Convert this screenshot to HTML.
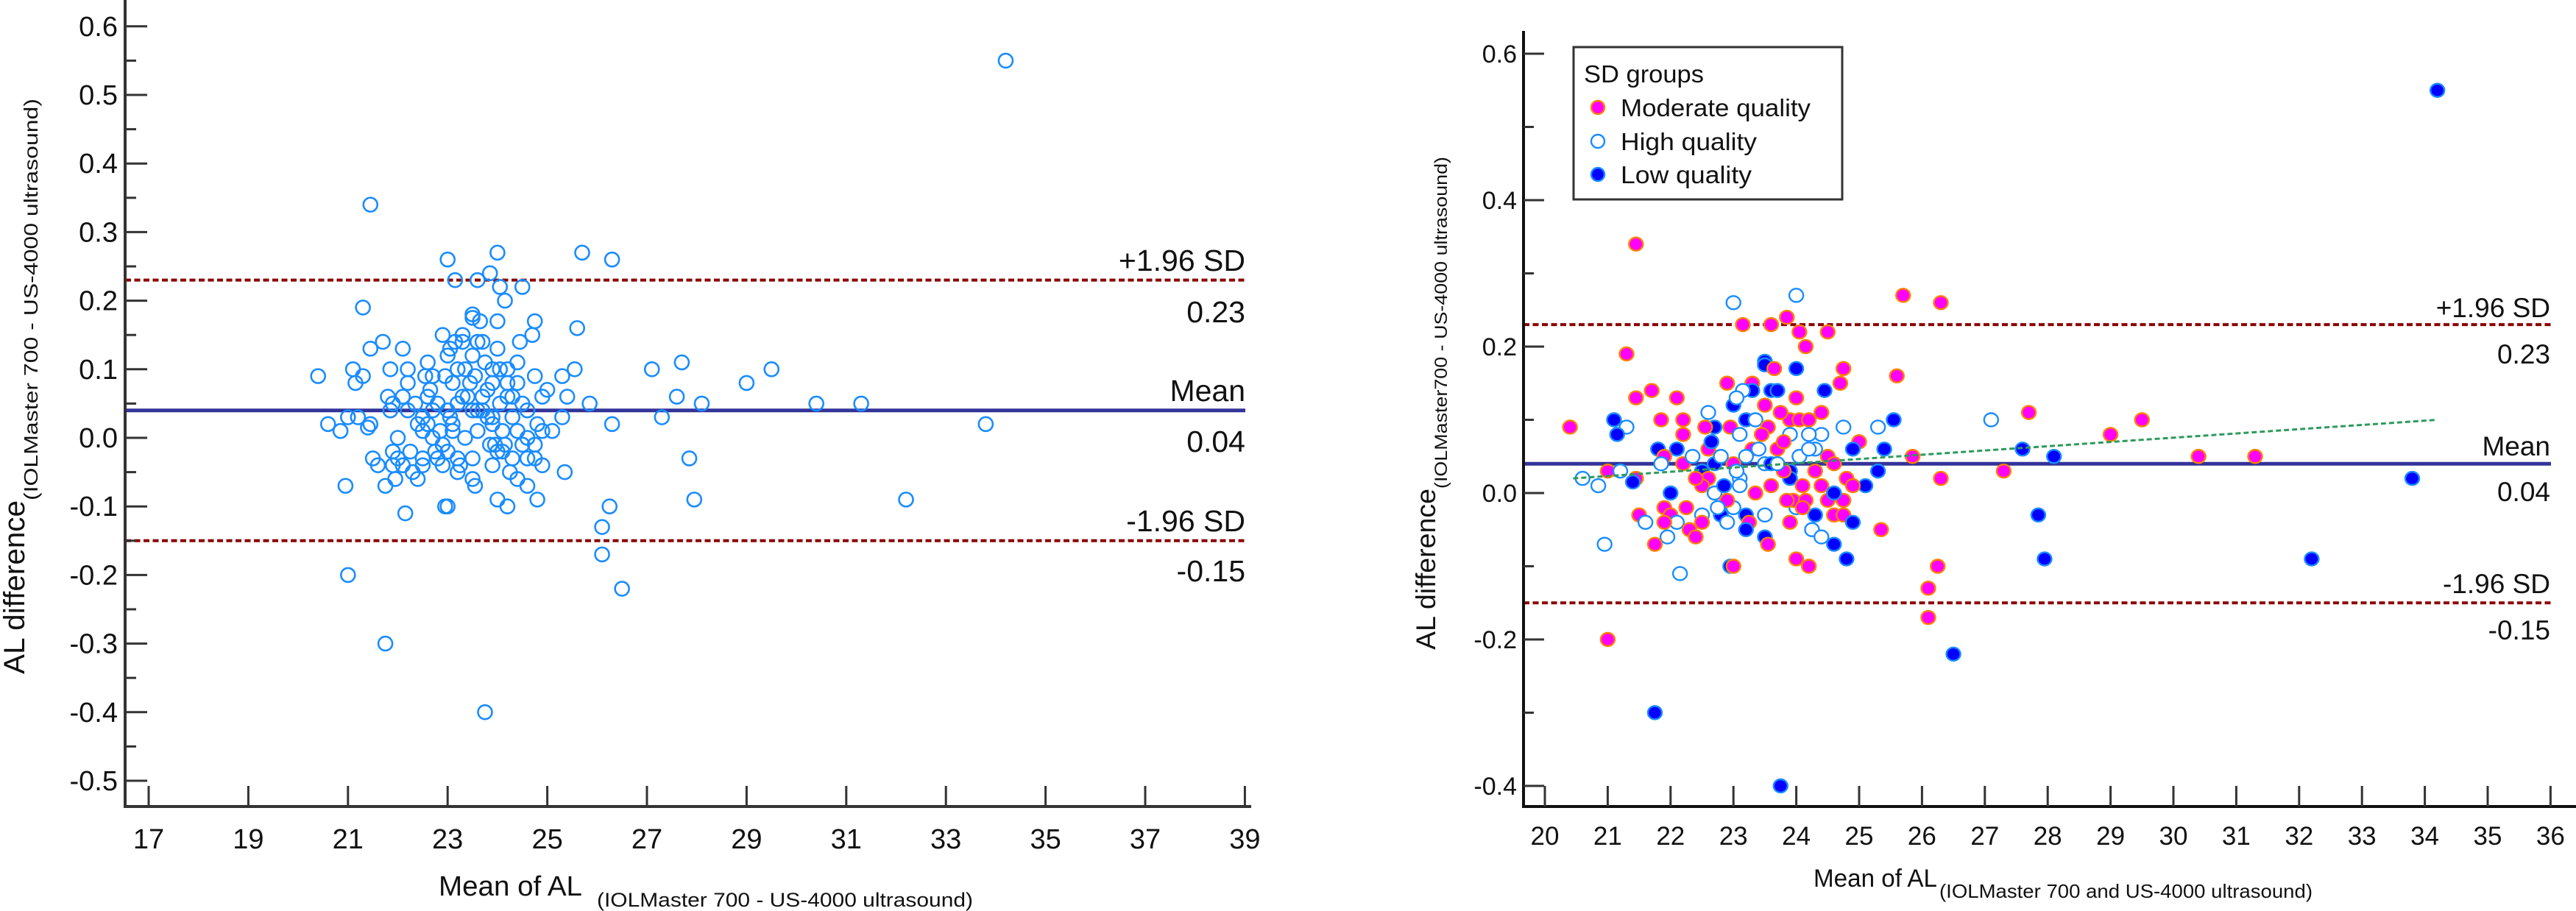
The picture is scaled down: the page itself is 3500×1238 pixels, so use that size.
<!DOCTYPE html>
<html><head><meta charset="utf-8">
<style>
html,body{margin:0;padding:0;background:#fff;}
svg{display:block;font-family:"Liberation Sans",Arial,sans-serif;}
</style></head>
<body>
<svg id="fig" width="3500" height="1238" viewBox="0 0 3500 1238" xmlns="http://www.w3.org/2000/svg">
  <rect width="3500" height="1238" fill="#fff"/>
  <g id="left"></g>
  <g id="right"></g>
</svg>
<script>
// ---- data ----
const meanAL = [34.2,21.45,21.3,20.4,23.0,24.0,25.7,26.3,23.15,23.6,23.85,24.05,24.5,24.15,
23.5,23.5,23.65,24.0,24.75,25.6,24.7,22.9,23.3,24.45,23.3,23.6,23.7,23.15,
21.7,22.1,21.45,24.0,23.0,23.05,23.5,
21.1,21.85,22.2,23.2,23.35,23.9,24.05,24.2,25.55,27.1,29.5,
23.75,24.4,27.7,22.6,
21.3,22.7,22.95,24.75,25.3,23.55,22.55,
21.15,22.2,29.0,24.4,24.2,23.1,23.9,25.0,
22.1,21.8,25.4,27.6,24.9,23.3,23.7,22.6,23.8,
21.9,25.85,28.1,30.4,31.3,24.5,23.2,24.05,
22.2,21.85,22.7,23.0,24.6,23.5,
21.0,21.2,22.5,27.3,23.9,25.3,24.3,
21.45,20.6,33.8,26.3,21.4,22.6,23.1,24.8,23.9,
20.85,22.5,25.1,24.9,23.6,24.1,24.4,23.1,
22.0,23.35,22.7,
21.5,21.9,22.0,22.25,22.1,22.5,23.0,23.5,24.3,24.6,24.75,22.8,23.2,
21.6,21.9,22.5,22.9,23.25,23.9,24.9,24.0,24.5,23.95,24.15,24.75,23.85,22.9,
22.3,25.35,23.2,24.25,21.95,22.4,24.4,23.5,
21.75,20.95,23.55,24.6,
22.15,22.95,23.0,24.0,24.2,24.8,26.25,27.85,27.95,32.2,
26.1,26.1,26.5,21.0,21.75,23.75,
22.8,22.65,23.4,23.8,24.3,22.4,23.6,24.2,22.75,23.45,24.6,22.35,23.05,24.1,22.85,23.7];
const diffAL = [0.55,0.34,0.19,0.09,0.26,0.27,0.27,0.26,0.23,0.23,0.24,0.22,0.22,0.20,
0.18,0.175,0.17,0.17,0.17,0.16,0.15,0.15,0.15,0.14,0.14,0.14,0.14,0.14,
0.14,0.13,0.13,0.13,0.12,0.13,0.12,
0.10,0.10,0.10,0.10,0.10,0.10,0.10,0.10,0.10,0.10,0.10,
0.11,0.11,0.11,0.11,
0.09,0.09,0.09,0.09,0.09,0.09,0.09,
0.08,0.08,0.08,0.08,0.08,0.08,0.08,0.07,
0.06,0.06,0.06,0.06,0.06,0.06,0.06,0.06,0.07,
0.05,0.05,0.05,0.05,0.05,0.05,0.05,0.05,
0.04,0.04,0.04,0.04,0.04,0.04,
0.03,0.03,0.03,0.03,0.03,0.03,0.03,
0.02,0.02,0.02,0.02,0.015,0.02,0.02,0.02,0.02,
0.01,0.01,0.01,0.01,0.01,0.01,0.01,0.01,
0.00,0.00,0.00,
-0.03,-0.02,-0.03,-0.02,-0.04,-0.03,-0.02,-0.03,-0.03,-0.03,-0.03,-0.03,-0.03,
-0.04,-0.04,-0.04,-0.04,-0.04,-0.04,-0.04,-0.02,-0.01,-0.01,-0.01,-0.01,-0.01,-0.01,
-0.05,-0.05,-0.05,-0.05,-0.06,-0.06,-0.06,-0.06,
-0.07,-0.07,-0.07,-0.07,
-0.11,-0.10,-0.10,-0.09,-0.10,-0.09,-0.10,-0.03,-0.09,-0.09,
-0.13,-0.17,-0.22,-0.20,-0.30,-0.40,
0.05,0.07,0.06,0.03,0.06,0.02,0.04,0.06,-0.02,0.08,0.00,0.05,0.03,-0.02,0.01,0.04];
const group = ["L","M","M","M","H","H","M","M","M","M","M","M","M","M",
"L","L","M","L","M","M","M","M","M","L","L","L","L","H",
"M","M","M","M","L","H","M",
"L","M","M","L","H","M","M","M","L","H","M",
"M","M","M","H",
"H","L","M","H","H","M","M",
"L","M","M","H","H","H","H","M",
"L","L","L","L","L","M","M","M","M",
"M","M","L","M","M","M","H","H",
"M","H","L","M","M","H",
"M","H","L","M","L","L","M",
"M","H","L","M","L","M","H","M","L",
"H","M","L","M","M","M","M","H",
"L","M","H",
"M","M","M","M","H","H","H","H","L","M","M","L","L",
"H","M","M","H","M","M","L","H","M","M","M","M","M","M",
"M","M","L","H","H","M","H","L",
"M","H","M","L",
"H","L","M","M","M","L","M","L","L","L",
"M","M","L","M","L","L",
"H","L","H","M","H","M","L","H","H","M","L","H","H","M","L","H"];
const meanDiff = 0.04, upperLoA = 0.23, lowerLoA = -0.15;
const regX = [20.45, 34.2];
const regY = [0.02, 0.10];
const leftXTicks = [17,19,21,23,25,27,29,31,33,35,37,39];
const leftYTicks = [0.6,0.5,0.4,0.3,0.2,0.1,0.0,-0.1,-0.2,-0.3,-0.4,-0.5];
const rightXTicks = [20,21,22,23,24,25,26,27,28,29,30,31,32,33,34,35,36];
const rightYTicks = [0.6,0.4,0.2,0.0,-0.2,-0.4];
const legendLabels = ["Moderate quality","High quality","Low quality"];

const NS = "http://www.w3.org/2000/svg";
function mk(parent, tag, attrs, text){
  const e = document.createElementNS(NS, tag);
  for (const k in attrs) e.setAttribute(k, attrs[k]);
  if (text !== undefined) e.textContent = text;
  parent.appendChild(e);
  return e;
}
function fmt(v){ return v.toFixed(1).replace("-0.0","0.0"); }

// ---------------- LEFT CHART ----------------
(function(){
  const g = document.getElementById('left');
  const X = v => 202 + (v - 17) * 67.7;
  const Y = v => 595 - v * 932;
  const axL = 170, axB = 1096, xEnd = 1700;
  // limit lines
  let e;
  e = mk(g,'line',{x1:axL,x2:1692,y1:Y(upperLoA),y2:Y(upperLoA),stroke:'#8b0000','stroke-width':4,'stroke-dasharray':'8 4.5'});
   
  e = mk(g,'line',{x1:axL,x2:1692,y1:Y(lowerLoA),y2:Y(lowerLoA),stroke:'#8b0000','stroke-width':4,'stroke-dasharray':'8 4.5'});
   
  e = mk(g,'line',{x1:axL,x2:1692,y1:Y(meanDiff),y2:Y(meanDiff),stroke:'#333399','stroke-width':5});
   
  // points
  for (let i=0;i<meanAL.length;i++){
    e = mk(g,'circle',{cx:X(meanAL[i]),cy:Y(diffAL[i]),r:9.5,fill:'none',stroke:'#1a8cff','stroke-width':2.6});
     
  }
  // axes
  e = mk(g,'line',{x1:axL,x2:axL,y1:0,y2:axB+2,stroke:'#333','stroke-width':4});
   
  e = mk(g,'line',{x1:axL-2,x2:xEnd,y1:axB,y2:axB,stroke:'#333','stroke-width':4});
   
  leftYTicks.forEach(t=>{
    const y = Y(t);
    let m = mk(g,'line',{x1:axL,x2:200,y1:y,y2:y,stroke:'#333','stroke-width':3});
     
    if (t > -0.5){ const y2 = Y(t-0.05);
      m = mk(g,'line',{x1:axL,x2:185,y1:y2,y2:y2,stroke:'#333','stroke-width':3});
        }
    m = mk(g,'text',{x:160,y:y+13,'text-anchor':'end','font-size':38,fill:'#111'},fmt(t));
     
  });
  leftXTicks.forEach(t=>{
    const x = X(t);
    let m = mk(g,'line',{x1:x,x2:x,y1:axB,y2:axB-28,stroke:'#333','stroke-width':3});
     
    m = mk(g,'text',{x:x,y:1153,'text-anchor':'middle','font-size':38,fill:'#111'},String(t));
     
  });
  const labs = [['+1.96 SD',368,'upper-loa-label'],['0.23',438,'upper-loa-value'],['Mean',545,'mean-label'],['0.04',614,'mean-value'],['-1.96 SD',722,'lower-loa-label'],['-0.15',790,'lower-loa-value']];
  labs.forEach(l=>{
    const m = mk(g,'text',{x:1692,y:l[1],'text-anchor':'end','font-size':41,fill:'#111'},l[0]);
     
  });
  // titles
  let t = mk(g,'text',{x:596,y:1217,'font-size':38,fill:'#111',textLength:195,lengthAdjust:'spacingAndGlyphs'},'Mean of AL');
   
  t = mk(g,'text',{x:811,y:1232,'font-size':27,fill:'#111',textLength:511,lengthAdjust:'spacingAndGlyphs'},'(IOLMaster 700 - US-4000 ultrasound)');
   
  t = mk(g,'text',{x:0,y:0,'font-size':40,fill:'#111',textLength:236,lengthAdjust:'spacingAndGlyphs',transform:'translate(33,916) rotate(-90)'},'AL difference');
   
  t = mk(g,'text',{x:0,y:0,'font-size':26,fill:'#111',textLength:546,lengthAdjust:'spacingAndGlyphs',transform:'translate(51,680) rotate(-90)'},'(IOLMaster 700 - US-4000 ultrasound)');
   
})();

// ---------------- RIGHT CHART ----------------
(function(){
  const g = document.getElementById('right');
  const X = v => 2099 + (v - 20) * 85.4;
  const Y = v => 670 - v * 995;
  const axL = 2070, axB = 1096, xEnd = 3500;
  let e;
  e = mk(g,'line',{x1:axL,x2:3466,y1:Y(upperLoA),y2:Y(upperLoA),stroke:'#8b0000','stroke-width':4,'stroke-dasharray':'8 4.5'});
   
  e = mk(g,'line',{x1:axL,x2:3466,y1:Y(lowerLoA),y2:Y(lowerLoA),stroke:'#8b0000','stroke-width':4,'stroke-dasharray':'8 4.5'});
   
  e = mk(g,'line',{x1:axL,x2:3466,y1:Y(meanDiff),y2:Y(meanDiff),stroke:'#333399','stroke-width':5});
   
  const style = {M:{fill:'#ff00ff',stroke:'#ff7f00'},H:{fill:'#ffffff',stroke:'#1a8cff'},L:{fill:'#0000ff',stroke:'#1a8cff'}};
  for (let i=0;i<meanAL.length;i++){
    const s = style[group[i]];
    e = mk(g,'ellipse',{cx:X(meanAL[i]),cy:Y(diffAL[i]),rx:9.5,ry:9,fill:s.fill,stroke:s.stroke,'stroke-width':2.4});
     
  }
  e = mk(g,'line',{x1:X(regX[0]),x2:X(regX[1]),y1:Y(regY[0]),y2:Y(regY[1]),stroke:'#2e9a5e','stroke-width':3,'stroke-dasharray':'7 4'});
   
  e = mk(g,'line',{x1:axL,x2:axL,y1:42,y2:axB+2,stroke:'#111','stroke-width':4});
   
  e = mk(g,'line',{x1:axL-2,x2:xEnd,y1:axB,y2:axB,stroke:'#111','stroke-width':4});
   
  rightYTicks.forEach(t=>{
    const y = Y(t);
    let m = mk(g,'line',{x1:axL,x2:2098,y1:y,y2:y,stroke:'#333','stroke-width':3});
     
    if (t > -0.4){ const y2 = Y(t-0.1);
      m = mk(g,'line',{x1:axL,x2:2084,y1:y2,y2:y2,stroke:'#333','stroke-width':3});
        }
    m = mk(g,'text',{x:2061,y:y+12,'text-anchor':'end','font-size':34,fill:'#111'},fmt(t));
     
  });
  rightXTicks.forEach(t=>{
    const x = X(t);
    let m = mk(g,'line',{x1:x,x2:x,y1:axB,y2:axB-28,stroke:'#333','stroke-width':3});
     
    m = mk(g,'text',{x:x,y:1148,'text-anchor':'middle','font-size':35,fill:'#111'},String(t));
     
  });
  const labs = [['+1.96 SD',431,'upper-loa-label'],['0.23',494,'upper-loa-value'],['Mean',619,'mean-label'],['0.04',681,'mean-value'],['-1.96 SD',806,'lower-loa-label'],['-0.15',869,'lower-loa-value']];
  labs.forEach(l=>{
    const m = mk(g,'text',{x:3465,y:l[1],'text-anchor':'end','font-size':37,fill:'#111'},l[0]);
     
  });
  // legend
  const lg = mk(g,'g',{});
   
  e = mk(lg,'rect',{x:2138,y:64,width:365,height:207,fill:'#fff',stroke:'#333','stroke-width':3});
   
  e = mk(lg,'text',{x:2152,y:112,'font-size':33,fill:'#111',textLength:163,lengthAdjust:'spacingAndGlyphs'},'SD groups');
   
  const keys = ['M','H','L'], ly = [146,192,237], lw = [258,185,178];
  keys.forEach((k,i)=>{
    const s = style[k];
    let m = mk(lg,'ellipse',{cx:2171,cy:ly[i],rx:9,ry:9,fill:s.fill,stroke:s.stroke,'stroke-width':2.4});
     
    m = mk(lg,'text',{x:2202,y:ly[i]+12,'font-size':33,fill:'#111',textLength:lw[i],lengthAdjust:'spacingAndGlyphs'},legendLabels[i]);
     
  });
  let t = mk(g,'text',{x:2464,y:1205,'font-size':34,fill:'#111',textLength:168,lengthAdjust:'spacingAndGlyphs'},'Mean of AL');
   
  t = mk(g,'text',{x:2635,y:1220,'font-size':26,fill:'#111',textLength:507,lengthAdjust:'spacingAndGlyphs'},'(IOLMaster 700 and US-4000 ultrasound)');
   
  t = mk(g,'text',{x:0,y:0,'font-size':37,fill:'#111',textLength:219,lengthAdjust:'spacingAndGlyphs',transform:'translate(1950,883) rotate(-90)'},'AL difference');
   
  t = mk(g,'text',{x:0,y:0,'font-size':24,fill:'#111',textLength:451,lengthAdjust:'spacingAndGlyphs',transform:'translate(1966,664) rotate(-90)'},'(IOLMaster700 - US-4000 ultrasound)');
   
})();
</script>
</body></html>
